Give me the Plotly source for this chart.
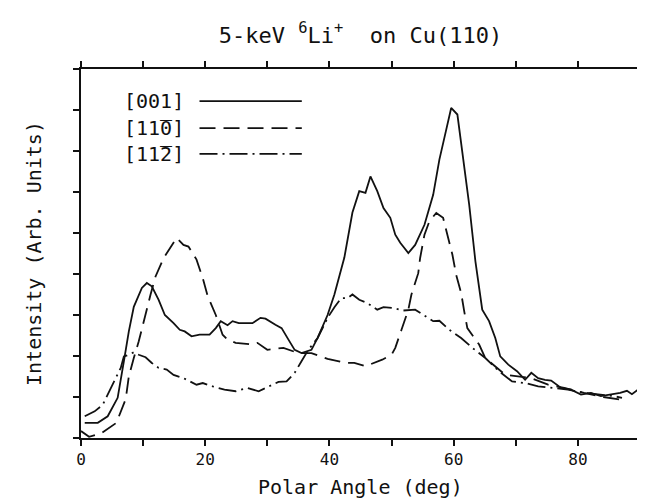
import plotly.graph_objects as go

# ---- data ----
ang_001 = [0.6, 2.7, 4.3, 5.9, 6.9, 7.7, 8.5, 9.8, 10.6, 11.4, 12.5, 13.5, 14.9, 15.9, 16.7,
           17.8, 19.1, 20.7, 21.7, 22.5, 23.6, 24.4, 25.4, 27.6, 28.9, 29.7, 31.3, 32.3, 33.4, 34.4,
           35.5, 37.1, 38.1, 39.7, 40.8, 42.4, 43.7, 44.8, 45.8, 46.6, 47.7, 48.7, 49.8, 50.6, 51.4,
           52.7, 53.8, 55.3, 56.7, 57.7, 58.5, 59.6, 60.6, 61.4, 62.5, 63.5, 64.6, 65.7, 66.7, 67.5,
           68.8, 70.2, 71.5, 72.5, 73.6, 74.7, 75.7, 77.3, 78.9, 80.5, 82.1, 83.7, 85.2, 86.8, 87.9,
           88.7, 89.7]
int_001 = [0.37, 0.37, 0.53, 0.98, 1.87, 2.6, 3.2, 3.66, 3.78, 3.7, 3.37, 3.0, 2.8, 2.64, 2.6,
           2.48, 2.52, 2.52, 2.68, 2.85, 2.75, 2.85, 2.8, 2.8, 2.93, 2.91, 2.76, 2.68, 2.4, 2.15,
           2.07, 2.15, 2.44, 3.0, 3.5, 4.4, 5.5, 6.02, 5.98, 6.38, 6.02, 5.61, 5.37, 4.96, 4.76,
           4.51, 4.71, 5.2, 5.93, 6.79, 7.32, 8.05, 7.89, 6.91, 5.69, 4.31, 3.13, 2.85, 2.44, 1.99,
           1.79, 1.63, 1.42, 1.59, 1.46, 1.42, 1.4, 1.22, 1.18, 1.06, 1.1, 1.02, 1.06, 1.1, 1.15,
           1.07, 1.18]

ang_110 = [0, 1.3, 3.3, 5.7, 7.2, 7.7, 8.5, 9.3, 11.2, 12.0, 13.3, 14.9, 15.4, 16.5, 17.3,
           18.6, 19.6, 20.4, 21.7, 22.8, 23.6, 24.9, 27.6, 28.4, 30.0, 32.6, 35.0, 37.1, 39.7,
           42.6, 44.0, 45.8, 48.5, 50.0, 50.6, 51.6, 52.7, 53.2, 54.3, 54.6, 55.3, 56.1, 57.2,
           58.3, 59.0, 59.8, 60.4, 61.2, 61.7, 62.2, 64.1, 65.1, 68.3, 72.5, 75.2, 77.8, 81.0,
           84.1, 87.1]
int_110 = [0.17, 0.03, 0.12, 0.37, 0.95, 1.5, 1.95, 2.36, 3.5, 3.94, 4.39, 4.76, 4.88, 4.71, 4.67,
           4.35, 3.9, 3.46, 3.0, 2.52, 2.4, 2.32, 2.28, 2.32, 2.15, 2.2, 2.07, 2.07, 1.93,
           1.83, 1.83, 1.75, 1.91, 2.03, 2.2, 2.64, 3.13, 3.5, 4.02, 4.39, 4.96, 5.29, 5.49,
           5.37, 4.92, 4.47, 3.98, 3.54, 3.09, 2.68, 2.28, 1.95, 1.54, 1.46, 1.3, 1.22, 1.1,
           1.0, 0.93]

ang_112 = [0.6, 2.2, 3.5, 4.6, 5.3, 6.4, 6.9, 7.7, 8.5, 9.3, 10.4, 11.4, 12.5, 13.8, 14.9,
           16.5, 18.6, 19.6, 21.2, 23.1, 24.9, 26.8, 28.6, 30.2, 31.8, 33.1, 34.4, 35.5, 36.6, 38.1,
           39.7, 40.8, 41.9, 42.9, 43.7, 44.8, 46.1, 47.7, 48.7, 50.3, 51.9, 53.8, 55.1, 56.7, 57.7,
           59.3, 61.2, 63.0, 65.1, 67.3, 69.4, 71.5, 73.6, 75.7, 78.4, 81.0, 83.7, 85.8, 87.1]
int_112 = [0.53, 0.65, 0.81, 1.14, 1.38, 1.71, 1.99, 2.03, 2.09, 2.03, 1.97, 1.83, 1.71, 1.67, 1.54,
           1.46, 1.3, 1.34, 1.26, 1.18, 1.14, 1.22, 1.14, 1.26, 1.37, 1.38, 1.59, 1.87, 2.15, 2.44,
           2.93, 3.19, 3.41, 3.41, 3.5, 3.37, 3.29, 3.13, 3.19, 3.17, 3.11, 3.13, 3.0, 2.85, 2.86,
           2.64, 2.44, 2.2, 1.95, 1.63, 1.38, 1.34, 1.26, 1.22, 1.18, 1.1, 1.06, 1.02, 0.98]

series_names = ["[001]", "[11\u03050]", "[11\u03052]"]
x_tick_vals = [0, 20, 40, 60, 80]
x_tick_text = ["0", "20", "40", "60", "80"]
x_minor_vals = [10, 30, 50, 70, 90]
y_tick_vals = [0, 1, 2, 3, 4, 5, 6, 7, 8, 9]

FONT = "DejaVu Sans Mono"
INK = "#111111"
dashes = ["solid", "16px,8px", "18px,5px,2px,5px"]

fig = go.Figure()
for xs, ys, name, d in zip([ang_001, ang_110, ang_112], [int_001, int_110, int_112],
                           series_names, dashes):
    fig.add_trace(go.Scatter(x=xs, y=ys, mode="lines", name=name,
                             line=dict(color=INK, width=1.8, dash=d), showlegend=False))

# manual legend: text first, line sample after
leg_y = [0.913, 0.840, 0.770]
for name, d, yy in zip(series_names, dashes, leg_y):
    fig.add_annotation(text=name, xref="paper", yref="paper", x=0.074, y=yy,
                       xanchor="left", yanchor="middle", showarrow=False,
                       font=dict(family=FONT, size=20, color=INK))
    fig.add_shape(type="line", xref="paper", yref="paper", x0=0.212, x1=0.395, y0=yy, y1=yy,
                  line=dict(color=INK, width=1.8, dash=d))

axis_common = dict(showline=True, linecolor=INK, linewidth=1.6, mirror="ticks",
                   ticks="outside", ticklen=6, tickwidth=1.6, tickcolor=INK,
                   showgrid=False, zeroline=False)

fig.update_xaxes(range=[0, 90], tickvals=x_tick_vals, ticktext=x_tick_text,
                 minor=dict(tickvals=x_minor_vals, ticks="outside", ticklen=6,
                            tickwidth=1.6, tickcolor=INK, showgrid=False),
                 tickfont=dict(family=FONT, size=16, color=INK), **axis_common)
fig.update_yaxes(range=[0, 9], tickvals=y_tick_vals, showticklabels=False, **axis_common)

fig.add_annotation(text="Polar Angle (deg)", xref="paper", yref="paper", x=0.5, y=-0.133,
                   xanchor="center", yanchor="middle", showarrow=False,
                   font=dict(family=FONT, size=20, color=INK))
fig.add_annotation(text="Intensity (Arb. Units)", xref="paper", yref="paper", x=-0.085, y=0.5,
                   xanchor="center", yanchor="middle", showarrow=False, textangle=-90,
                   font=dict(family=FONT, size=20, color=INK))

fig.update_layout(
    width=645, height=500,
    margin=dict(l=73, r=5, t=61, b=70),
    paper_bgcolor="white", plot_bgcolor="white",
    title=dict(text="5-keV <sup>6</sup>Li<sup>+</sup>\u00a0\u00a0on Cu(110)",
               x=0.5, xref="paper", xanchor="center", y=1 - 27 / 500, yanchor="middle",
               font=dict(family=FONT, size=22, color=INK)),
)

fig.write_html("out.html")
